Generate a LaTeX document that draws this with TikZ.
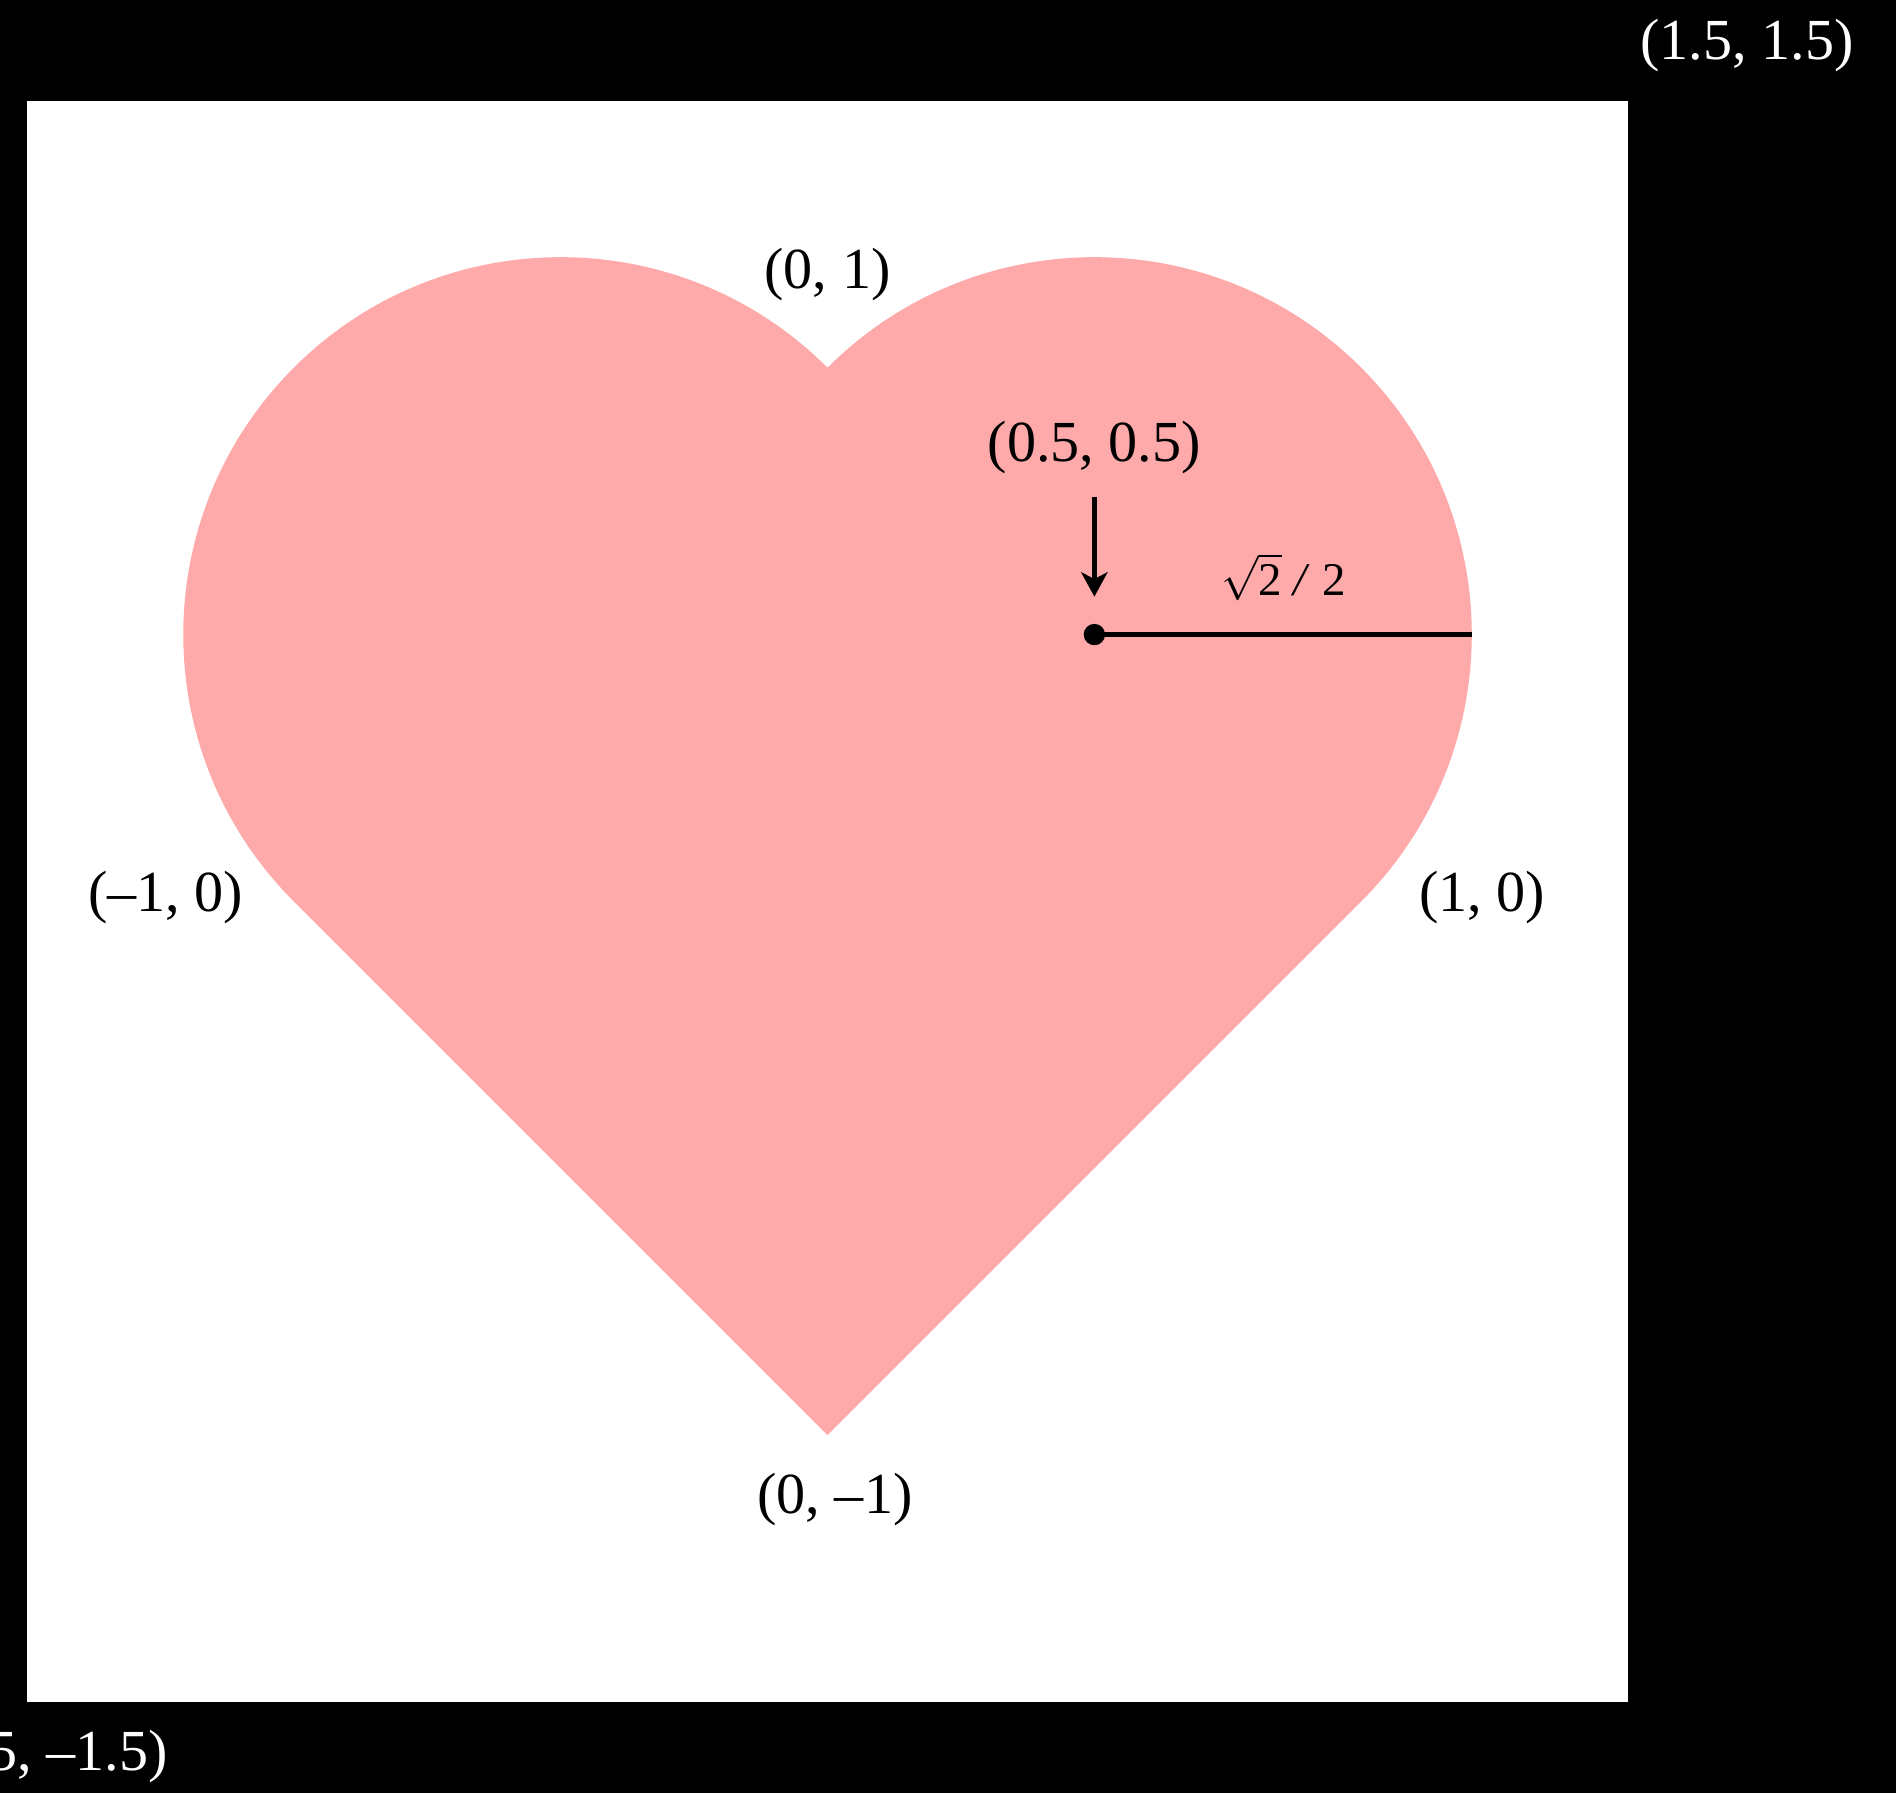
\documentclass[tikz,border=0pt]{standalone}
\usepackage{fontspec}
\setmainfont{Liberation Serif}
\usetikzlibrary{arrows.meta}
\definecolor{heartpink}{RGB}{255,170,170}
\tikzset{
  lbl/.style={font=\fontsize{15.5}{18}\selectfont, inner sep=0pt},
  cornerlbl/.style={lbl, text=white},
  smalllbl/.style={font=\fontsize{12.5}{15}\selectfont, inner sep=0pt},
  heart/.style={fill=heartpink},
  mark line/.style={line width=1.2pt},
}
\begin{document}
\begin{tikzpicture}[scale=5]
  \fill[black] (-1.5505,-1.6704) rectangle (2.002,1.689);
  \useasboundingbox (-1.5505,-1.6704) rectangle (2.002,1.689);
  \fill[white] (-1.5,-1.5) rectangle (1.5,1.5);
  % heart
  \fill[heart] (-1,0) -- (0,-1) -- (1,0)
     arc[start angle=-45, end angle=135, radius=0.70711]
     arc[start angle=45, end angle=225, radius=0.70711] -- cycle;
  % labels
  \node[cornerlbl] (tr) at (1.723,1.603) {(1.5, 1.5)};
  \node[cornerlbl] (bl) at (-1.49,-1.603) {(–1.5, –1.5)};
  \node[lbl] (top) at (0,1.175) {(0, 1)};
  \node[lbl] (left) at (-1.24,0.007) {(–1, 0)};
  \node[lbl] (right) at (1.227,0.007) {(1, 0)};
  \node[lbl] (bottom) at (0.014,-1.12) {(0, –1)};
  \node[lbl] (cl) at (0.5,0.851) {(0.5, 0.5)};
  \node[smalllbl] (rl) at (0.854,0.608) {$\sqrt{\mbox{2}}$ \textit{/} 2};
  % center dot, radius and arrow
  \node[circle, fill=black, inner sep=0pt, minimum size=0.2cm] (dot) at (0.5,0.5) {};
  \coordinate (rim) at (1.20711,0.5);
  \coordinate (arrS) at (0.5,0.758);
  \coordinate (arrE) at (0.5,0.571);
  \draw[mark line] (dot.center) -- (rim);
  \draw[mark line, -{Stealth[length=6.5pt,width=7pt,inset=1.8pt]}] (arrS) -- (arrE);
\end{tikzpicture}
\end{document}
